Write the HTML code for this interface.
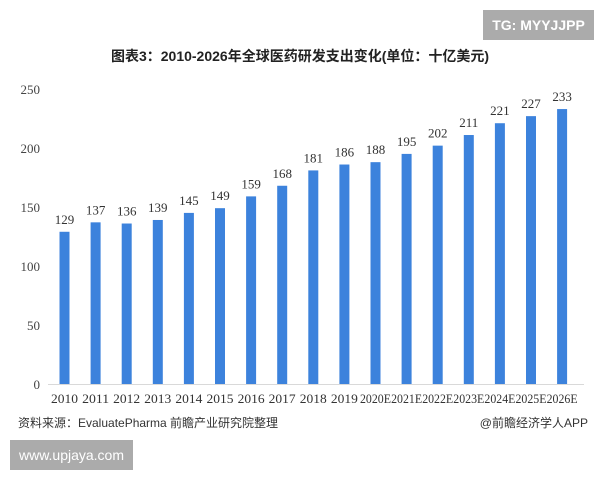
<!DOCTYPE html>
<html><head><meta charset="utf-8">
<style>
html,body{margin:0;padding:0;background:#fff;}
#wrap{position:relative;width:600px;height:480px;overflow:hidden;font-family:"Liberation Sans","Noto Sans CJK SC",sans-serif;}
.tg{position:absolute;left:483px;top:10px;width:111px;height:30px;background:#ababab;color:#fff;font-size:14px;font-weight:bold;line-height:30px;text-align:center;}
.www{position:absolute;left:10px;top:440px;width:123px;height:30px;background:#ababab;color:#fff;font-size:14px;line-height:30px;text-align:center;}
.title{position:absolute;left:0;top:46px;width:600px;text-align:center;font-size:14px;font-weight:bold;color:#222;}
.src{position:absolute;left:18px;top:414px;font-size:12px;color:#333;}
.app{position:absolute;right:12px;top:414px;font-size:12px;color:#333;}
svg{position:absolute;left:0;top:0;}
</style></head><body>
<div id="wrap">
<div class="tg">TG: MYYJJPP</div>
<div class="title">图表3：2010-2026年全球医药研发支出变化(单位：十亿美元)</div>
<svg id="chart" width="600" height="480"></svg>
<div class="src">资料来源：EvaluatePharma 前瞻产业研究院整理</div>
<div class="app">@前瞻经济学人APP</div>
<div class="www">www.upjaya.com</div>
</div>
<script>
const categories=["2010","2011","2012","2013","2014","2015","2016","2017","2018","2019","2020E","2021E","2022E","2023E","2024E","2025E","2026E"];
const values=[129,137,136,139,145,149,159,168,181,186,188,195,202,211,221,227,233];
const yTicks=[0,50,100,150,200,250];
const NS="http://www.w3.org/2000/svg";
const svg=document.getElementById('chart');
const y0=384,yMax=250,yTop=89;
const yS=v=>y0-(v/yMax)*(y0-yTop);
const x0=64.5,step=31.1;
const xS=i=>x0+i*step;
function mk(tag,attrs,text){const e=document.createElementNS(NS,tag);for(const k in attrs)e.setAttribute(k,attrs[k]);if(text!==undefined)e.textContent=text;svg.appendChild(e);return e;}
yTicks.forEach(t=>{
  const e=mk('text',{x:40,y:yS(t)+5,'text-anchor':'end','font-size':13,fill:'#444','font-family':'Liberation Serif, serif'},t);
  
  
});
const ax=mk('line',{x1:48,x2:584,y1:y0+0.5,y2:y0+0.5,stroke:'#d9d9d9','stroke-width':1});


categories.forEach((c,i)=>{
  const cx=xS(i),v=values[i];
  const b=mk('rect',{x:cx-5,y:yS(v),width:10,height:y0-yS(v),fill:'#3c82dc'});
  
  
  const l=mk('text',{x:cx,y:yS(v)-8,'text-anchor':'middle','font-size':13,fill:'#333','font-family':'Liberation Serif, serif'},v);
  
  
  const t=mk('text',{x:cx,y:403,'text-anchor':'middle','font-size':12.5,fill:'#333','font-family':'Liberation Serif, serif','textLength':c.length>4?31:27,'lengthAdjust':'spacingAndGlyphs'},c);
  
  
});
</script>
</body></html>
